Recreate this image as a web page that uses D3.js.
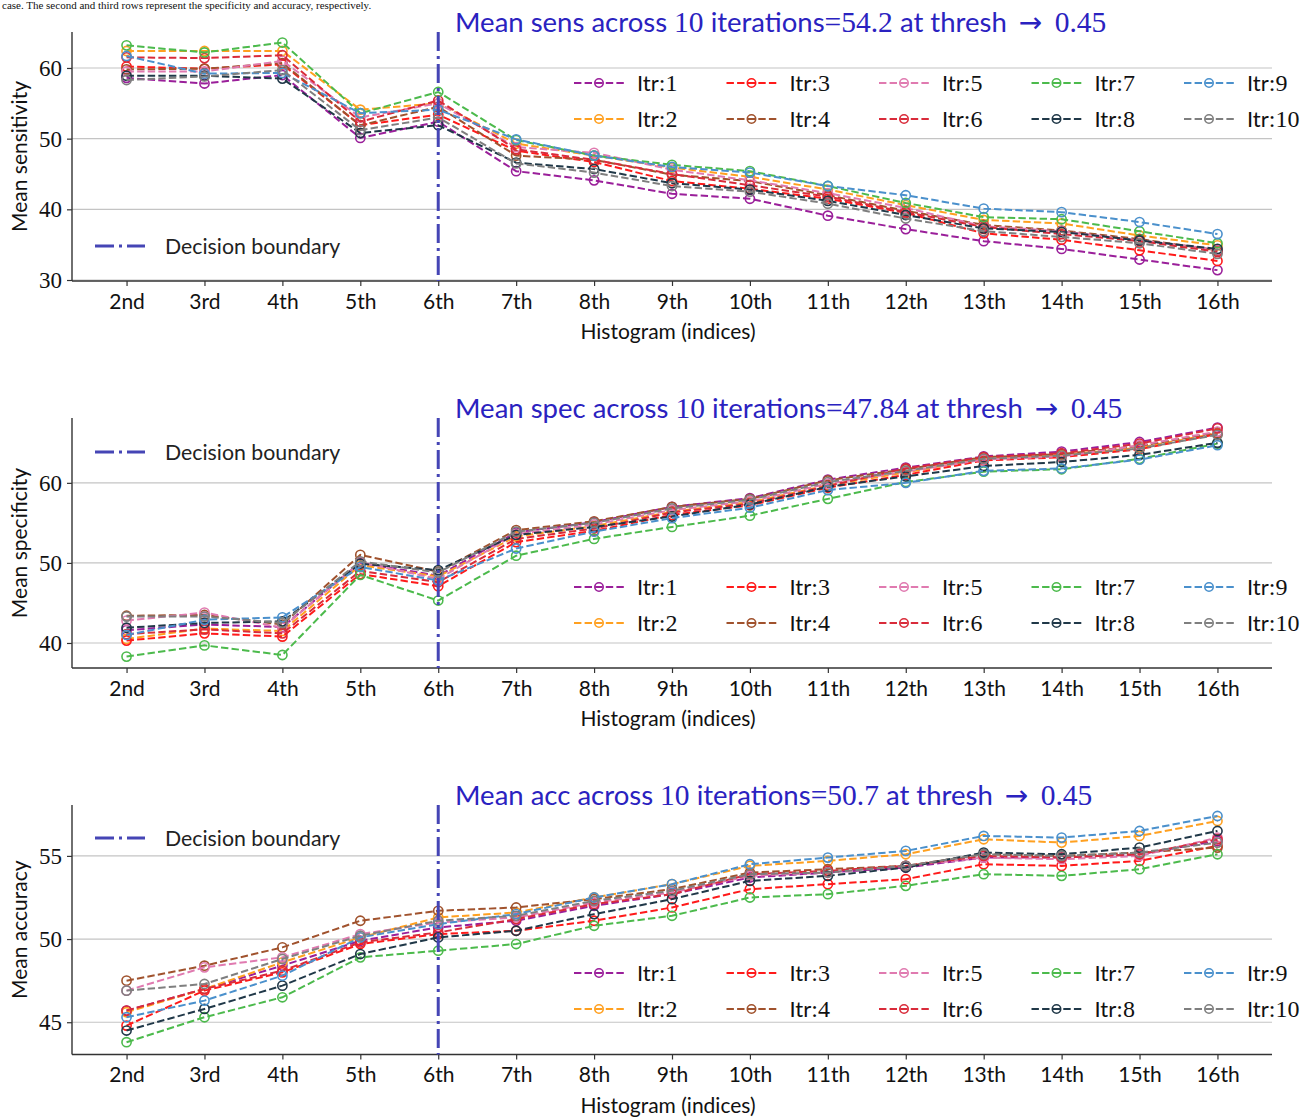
<!DOCTYPE html>
<html><head><meta charset="utf-8">
<script src="https://cdn.jsdelivr.net/npm/d3@7"></script>
<style>
body{margin:0;background:#fff;}
svg{display:block;}
</style></head>
<body>
<svg id="chart" width="1309" height="1119"></svg>
<script>
const categories = ["2nd","3rd","4th","5th","6th","7th","8th","9th","10th","11th","12th","13th","14th","15th","16th"];
const seriesNames = ["Itr:1","Itr:2","Itr:3","Itr:4","Itr:5","Itr:6","Itr:7","Itr:8","Itr:9","Itr:10"];
const seriesColors = ["#9a1f9a","#ffa020","#ff1a1a","#a0522d","#e07ab0","#d92b3a","#4cba4c","#203848","#4a90cc","#7f7f7f"];

// Sensitivity (rows: Itr 1..10, cols: 2nd..16th)
const sensitivity = [
  [58.6,57.8,59.0,50.1,52.4,45.4,44.1,42.2,41.5,39.1,37.2,35.5,34.4,32.9,31.4],
  [62.4,62.4,62.4,54.1,55.0,49.3,47.6,45.9,44.6,42.8,40.6,38.5,38.0,36.3,34.9],
  [60.2,59.9,60.5,51.9,53.4,48.3,46.7,44.0,42.9,41.5,39.5,36.6,35.7,34.2,32.7],
  [59.8,59.9,60.7,51.9,54.5,47.6,47.0,44.9,44.0,42.0,39.8,37.8,37.0,35.8,34.2],
  [59.5,59.5,61.0,53.0,55.0,48.8,48.0,45.6,44.1,42.3,40.2,37.6,36.9,35.6,34.3],
  [61.5,61.4,61.8,52.4,55.4,48.5,47.0,45.0,43.4,41.8,39.6,37.5,36.5,35.5,34.0],
  [63.2,62.2,63.6,53.6,56.6,49.8,47.6,46.3,45.4,43.3,40.9,38.9,38.6,36.9,35.2],
  [58.9,58.9,58.5,50.8,51.9,46.6,45.7,43.7,42.8,41.2,39.2,37.3,36.8,35.6,34.4],
  [61.7,59.2,59.3,53.6,54.1,49.9,47.6,46.0,45.2,43.3,42.0,40.1,39.6,38.2,36.5],
  [58.3,58.8,59.7,51.2,53.0,46.5,45.2,43.3,42.5,40.8,38.7,36.9,36.1,35.2,33.7]
];
// Specificity
const specificity = [
  [41.6,42.3,42.0,50.0,48.4,53.8,55.1,57.0,58.1,60.4,61.9,63.3,63.9,65.1,66.9],
  [40.5,41.8,41.5,49.7,48.3,53.3,54.6,56.4,57.6,59.7,61.3,63.0,63.5,64.4,66.2],
  [40.3,41.2,40.8,48.6,47.1,52.6,54.0,56.0,57.2,59.4,61.0,62.8,63.2,64.2,66.1],
  [43.4,43.5,42.3,51.0,48.9,54.1,55.2,57.0,58.0,60.3,61.7,63.2,63.6,64.6,66.3],
  [42.8,43.8,41.9,50.1,48.0,53.6,54.8,56.6,57.7,59.9,61.4,62.9,63.3,64.7,66.4],
  [41.1,41.7,41.2,49.0,47.6,53.0,54.3,56.3,57.4,59.6,61.8,63.2,63.7,64.9,66.8],
  [38.3,39.7,38.5,48.5,45.3,50.9,53.0,54.5,55.9,58.0,60.1,61.4,61.7,63.0,64.9],
  [41.9,42.5,42.7,49.9,49.1,53.5,54.5,55.8,57.3,59.5,60.8,62.1,62.6,63.5,65.0],
  [41.0,42.9,43.2,49.5,47.8,51.8,53.9,55.6,56.9,59.1,60.0,61.5,61.8,62.9,64.7],
  [43.3,43.3,42.5,50.2,48.8,53.9,55.0,56.8,57.9,60.1,61.5,63.0,63.4,64.3,66.0]
];
// Accuracy
const accuracy = [
  [45.7,47.0,48.4,49.9,50.7,51.1,52.0,52.7,53.7,54.0,54.3,54.9,54.9,55.1,55.9],
  [45.6,47.0,48.6,50.1,51.3,51.6,52.5,53.3,54.4,54.7,55.1,56.0,55.8,56.2,57.1],
  [44.8,46.9,48.0,49.7,50.3,50.5,51.1,51.9,53.0,53.3,53.6,54.5,54.4,54.7,55.6],
  [47.5,48.4,49.5,51.1,51.7,51.9,52.4,53.0,54.0,54.2,54.4,55.1,55.0,55.2,55.5],
  [46.9,48.3,48.9,50.3,51.0,51.3,52.2,52.8,53.8,54.0,54.4,54.9,54.8,55.0,56.1],
  [45.7,47.0,48.1,49.8,50.4,51.2,52.1,52.7,53.9,54.1,54.4,55.0,54.9,55.1,56.0],
  [43.8,45.3,46.5,48.9,49.3,49.7,50.8,51.4,52.5,52.7,53.2,53.9,53.8,54.2,55.1],
  [44.5,45.8,47.2,49.1,50.1,50.5,51.5,52.4,53.5,53.8,54.3,55.2,55.1,55.5,56.5],
  [45.3,46.3,47.8,50.1,50.9,51.5,52.5,53.3,54.5,54.9,55.3,56.2,56.1,56.5,57.4],
  [46.9,47.3,48.8,50.2,51.1,51.4,52.3,52.9,53.9,54.0,54.4,55.1,55.0,55.2,55.8]
];

const sensTicks = [30,40,50,60];
const specTicks = [40,50,60];
const accTicks = [45,50,55];
const boundaryIndex = 4; // "6th"

const panels = [
  {data: sensitivity, ticks: sensTicks, domain:[29.86,65.09], top:32, bottom:281, ylabel:"Mean sensitivity",
   title:[["Mean sens across ","s"],["10","m"],[" iterations","s"],["=54.2","m"],[" at thresh ","s"],["\u2192","a"],[" 0.45","m"]],
   legendY:83, boundaryLegendY:246},
  {data: specificity, ticks: specTicks, domain:[36.875,68.1], top:418, bottom:668, ylabel:"Mean specificity",
   title:[["Mean spec across ","s"],["10","m"],[" iterations","s"],["=47.84","m"],[" at thresh ","s"],["\u2192","a"],[" 0.45","m"]],
   legendY:587, boundaryLegendY:452},
  {data: accuracy, ticks: accTicks, domain:[43.06,58.06], top:805, bottom:1054.5, ylabel:"Mean accuracy",
   title:[["Mean acc across ","s"],["10","m"],[" iterations","s"],["=50.7","m"],[" at thresh ","s"],["\u2192","a"],[" 0.45","m"]],
   legendY:973, boundaryLegendY:838}
];

const SANS = "Lato, 'Open Sans', sans-serif";
const SERIF = "'Liberation Serif', 'DejaVu Serif', serif";
const ARROW = "'DejaVu Sans', sans-serif";
const svg = d3.select("#chart");
const left = 72, right = 1272;
const x = d3.scaleLinear().domain([-0.7, categories.length - 1 + 0.7]).range([left, right]);

// caption fragment at the very top of the page
svg.append("text").attr("x", 2).attr("y", 9).attr("font-family", SERIF).attr("font-size", 11).attr("fill", "#111")
  .text("case. The second and third rows represent the specificity and accuracy, respectively.");

panels.forEach(p => {
  const y = d3.scaleLinear().domain(p.domain).range([p.bottom, p.top]);
  const g = svg.append("g");

  // grid
  g.selectAll(".grid").data(p.ticks).enter().append("line")
    .attr("x1", left).attr("x2", right).attr("y1", d => y(d)).attr("y2", d => y(d))
    .attr("stroke", "#c4c4c4").attr("stroke-width", 1.2);

  // axes
  const ax = g.append("g").attr("transform", `translate(0,${p.bottom})`)
    .call(d3.axisBottom(x).tickValues(d3.range(categories.length)).tickFormat(i => categories[i]).tickSizeOuter(0).tickSize(5).tickPadding(8));
  ax.select(".domain").attr("stroke", "#333").attr("stroke-width", 1.4).attr("d", `M${left},0H${right}`);
  ax.selectAll(".tick line").attr("stroke", "#333").attr("stroke-width", 1.2);
  ax.selectAll(".tick text").attr("font-family", SANS).attr("font-size", 21).attr("fill", "#111");

  const ay = g.append("g").attr("transform", `translate(${left},0)`)
    .call(d3.axisLeft(y).tickValues(p.ticks).tickFormat(d3.format("d")).tickSizeOuter(0).tickSize(5).tickPadding(5));
  ay.select(".domain").attr("stroke", "#333").attr("stroke-width", 1.4).attr("d", `M0,${p.top}V${p.bottom}`);
  ay.selectAll(".tick line").attr("stroke", "#333").attr("stroke-width", 1.2);
  ay.selectAll(".tick text").attr("font-family", SERIF).attr("font-size", 23).attr("fill", "#111");

  // axis labels
  g.append("text").attr("x", (left + right) / 2 - 4).attr("y", p.bottom + 58).attr("text-anchor", "middle")
    .attr("font-family", SANS).attr("font-size", 21).attr("fill", "#111").text("Histogram (indices)");
  g.append("text").attr("transform", `translate(27,${(p.top + p.bottom) / 2}) rotate(-90)`).attr("text-anchor", "middle")
    .attr("font-family", SANS).attr("font-size", 21).attr("fill", "#111").text(p.ylabel);

  // title
  const t = g.append("text").attr("x", 455).attr("y", p.top).attr("fill", "#2a22c0");
  p.title.forEach(([s, f]) => t.append("tspan")
    .attr("font-family", f === "s" ? SANS : (f === "a" ? ARROW : SERIF))
    .attr("dx", f === "a" ? 5 : 0)
    .attr("font-size", f === "s" ? 27.5 : (f === "a" ? 28 : 29.5)).text(s))
  t.selectAll("tspan").filter((d, i) => i === p.title.length - 1).attr("dx", 5);

  // series
  const line = d3.line().x((d, i) => x(i)).y(d => y(d));
  p.data.forEach((vals, k) => {
    const c = seriesColors[k];
    g.append("path").attr("d", line(vals)).attr("fill", "none").attr("stroke", c)
      .attr("stroke-width", 2).attr("stroke-dasharray", "7.4,3.2");
    g.selectAll(null).data(vals).enter().append("circle")
      .attr("cx", (d, i) => x(i)).attr("cy", d => y(d)).attr("r", 4.6)
      .attr("fill", "none").attr("stroke", c).attr("stroke-width", 1.6);
  });

  // decision boundary
  g.append("line").attr("x1", x(boundaryIndex)).attr("x2", x(boundaryIndex)).attr("y1", p.top).attr("y2", p.bottom)
    .attr("stroke", "#4545b5").attr("stroke-width", 3).attr("stroke-dasharray", "19,5,3,5");
  g.append("line").attr("x1", 95).attr("x2", 145).attr("y1", p.boundaryLegendY).attr("y2", p.boundaryLegendY)
    .attr("stroke", "#4545b5").attr("stroke-width", 3).attr("stroke-dasharray", "19,5,3,5");
  g.append("text").attr("x", 165).attr("y", p.boundaryLegendY + 8).attr("font-family", SANS).attr("font-size", 21.3)
    .attr("fill", "#222").text("Decision boundary");

  // series legend: 5 columns x 2 rows, column-major
  seriesNames.forEach((name, k) => {
    const col = Math.floor(k / 2), row = k % 2;
    const lx = 574 + col * 152.5, ly = p.legendY + row * 36;
    const c = seriesColors[k];
    g.append("line").attr("x1", lx).attr("x2", lx + 50).attr("y1", ly).attr("y2", ly)
      .attr("stroke", c).attr("stroke-width", 2).attr("stroke-dasharray", "7.4,3.2");
    g.append("circle").attr("cx", lx + 25).attr("cy", ly).attr("r", 4.2).attr("fill", "none")
      .attr("stroke", c).attr("stroke-width", 1.6);
    const tx = g.append("text").attr("x", lx + 63).attr("y", ly + 8).attr("fill", "#111");
    const parts = name.split(":");
    tx.append("tspan").attr("font-family", SANS).attr("font-size", 22).text(parts[0]);
    tx.append("tspan").attr("font-family", SERIF).attr("font-size", 24).text(":" + parts[1]);
  });
});
</script>
</body></html>
